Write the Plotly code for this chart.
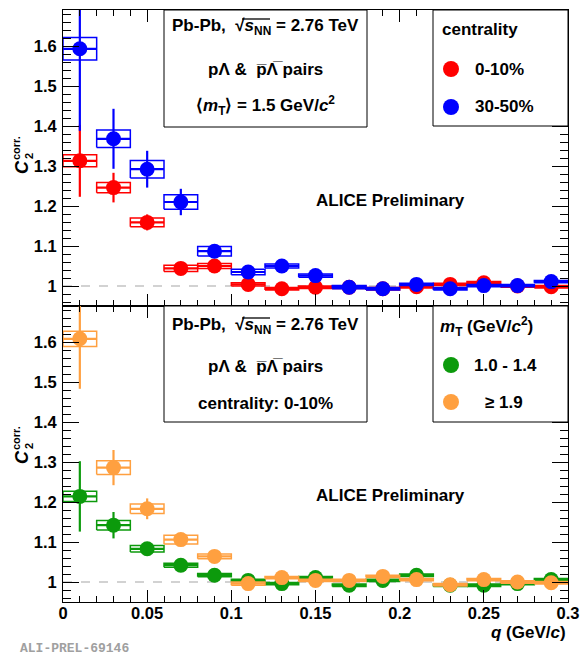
import plotly.graph_objects as go

# ---------------- data ----------------
q = [0.01, 0.03, 0.05, 0.07, 0.09, 0.11, 0.13, 0.15, 0.17, 0.19, 0.21, 0.23, 0.25, 0.27, 0.29]
q_halfbin = [0.01] * 15

# top panel: centrality, <mT> = 1.5 GeV/c^2
c010_y = [1.313, 1.246, 1.159, 1.044, 1.050, 1.004, 0.993, 0.997, 0.997, 0.993, 0.998, 1.004, 1.008, 1.000, 0.998]
c010_stat = [0.090, 0.037, 0.020, 0.008, 0.008, 0.006, 0.005, 0.005, 0.004, 0.004, 0.004, 0.004, 0.004, 0.004, 0.004]
c010_sys = [0.015, 0.013, 0.011, 0.008, 0.006, 0.004, 0.003, 0.003, 0.003, 0.003, 0.003, 0.003, 0.003, 0.003, 0.003]

c3050_y = [1.593, 1.368, 1.292, 1.210, 1.087, 1.035, 1.050, 1.026, 0.997, 0.993, 1.004, 0.993, 1.001, 1.001, 1.011]
c3050_stat = [0.205, 0.075, 0.046, 0.033, 0.015, 0.008, 0.006, 0.006, 0.005, 0.005, 0.005, 0.005, 0.005, 0.005, 0.005]
c3050_sys = [0.028, 0.022, 0.022, 0.018, 0.012, 0.007, 0.005, 0.004, 0.004, 0.003, 0.003, 0.003, 0.003, 0.003, 0.003]

# bottom panel: mT bins, centrality 0-10%
mt1_y = [1.214, 1.142, 1.083, 1.042, 1.017, 1.004, 0.996, 1.011, 0.992, 1.004, 1.017, 0.992, 0.992, 0.996, 1.006]
mt1_stat = [0.088, 0.033, 0.012, 0.008, 0.007, 0.006, 0.005, 0.005, 0.005, 0.005, 0.005, 0.005, 0.005, 0.005, 0.005]
mt1_sys = [0.013, 0.012, 0.008, 0.005, 0.004, 0.003, 0.003, 0.003, 0.003, 0.003, 0.003, 0.003, 0.003, 0.003, 0.003]

mt2_y = [1.608, 1.286, 1.183, 1.106, 1.064, 0.996, 1.011, 1.004, 1.004, 1.014, 1.006, 0.993, 1.006, 1.000, 0.998]
mt2_stat = [0.125, 0.044, 0.026, 0.014, 0.010, 0.005, 0.005, 0.005, 0.005, 0.005, 0.005, 0.005, 0.005, 0.005, 0.005]
mt2_sys = [0.019, 0.017, 0.012, 0.011, 0.006, 0.004, 0.003, 0.003, 0.003, 0.003, 0.003, 0.003, 0.003, 0.003, 0.003]

y_tickvals = [1.0, 1.1, 1.2, 1.3, 1.4, 1.5, 1.6]
y_ticktext = ["1", "1.1", "1.2", "1.3", "1.4", "1.5", "1.6"]
x_tickvals = [0, 0.05, 0.1, 0.15, 0.2, 0.25, 0.3]
x_ticktext = ["0", "0.05", "0.1", "0.15", "0.2", "0.25", "0.3"]

RED, BLUE, GREEN, ORANGE = "#ff0000", "#0000ff", "#0c9a0c", "#ffa040"
FONT = "Liberation Sans"

fig = go.Figure()


def box_path(xs, hws, ys, ss):
    X, Y = [], []
    for x, hw, y, s in zip(xs, hws, ys, ss):
        X += [x - hw, x + hw, x + hw, x - hw, x - hw, None]
        Y += [y - s, y - s, y + s, y + s, y - s, None]
    return X, Y


def add_series(ys, stat, sys, color, xa, ya):
    bx, by = box_path(q, q_halfbin, ys, sys)
    fig.add_trace(go.Scatter(x=bx, y=by, mode="lines", line=dict(color=color, width=1.5),
                             xaxis=xa, yaxis=ya, hoverinfo="skip"))
    fig.add_trace(go.Scatter(
        x=q, y=ys, mode="markers", xaxis=xa, yaxis=ya,
        marker=dict(color=color, size=15, line=dict(width=0)),
        error_y=dict(type="data", array=stat, visible=True, color=color, thickness=2.2, width=0),
        error_x=dict(type="data", array=q_halfbin, visible=True, color=color, thickness=2.2, width=0),
    ))


# reference lines at 1
for xa, ya in (("x", "y"), ("x2", "y2")):
    fig.add_trace(go.Scatter(x=[x_tickvals[0], x_tickvals[-1]], y=[1, 1], mode="lines",
                             line=dict(color="#c4c4c4", width=1.5, dash="dash"),
                             xaxis=xa, yaxis=ya, hoverinfo="skip"))

add_series(c010_y, c010_stat, c010_sys, RED, "x", "y")
add_series(c3050_y, c3050_stat, c3050_sys, BLUE, "x", "y")
add_series(mt1_y, mt1_stat, mt1_sys, GREEN, "x2", "y2")
add_series(mt2_y, mt2_stat, mt2_sys, ORANGE, "x2", "y2")

tickfont = dict(family=FONT, size=16.5, color="black", weight="bold")
common_x = dict(range=[0, 0.3], showgrid=False, zeroline=False, showline=True, linecolor="black",
                linewidth=1, mirror="allticks", ticks="inside", ticklen=12, tickwidth=1,
                tickcolor="black", tickvals=x_tickvals, ticktext=x_ticktext, tickfont=tickfont,
                automargin=False, ticklabelstandoff=-4,
                minor=dict(ticks="inside", dtick=0.01, ticklen=6, tickwidth=1, tickcolor="black",
                           showgrid=False))
common_y = dict(range=[0.95, 1.69], showgrid=False, zeroline=False, showline=True, linecolor="black",
                linewidth=1, mirror="allticks", ticks="inside", ticklen=16, tickwidth=1,
                tickcolor="black", tickvals=y_tickvals, ticktext=y_ticktext, tickfont=tickfont,
                ticklabelstandoff=2, automargin=False,
                minor=dict(ticks="inside", dtick=0.02, tick0=1.0, ticklen=8, tickwidth=1,
                           tickcolor="black", showgrid=False))

fig.update_layout(
    width=582, height=656, autosize=False,
    margin=dict(l=63, r=14, t=10, b=54, autoexpand=False),
    paper_bgcolor="white", plot_bgcolor="white",
    showlegend=False,
    xaxis=dict(domain=[0, 1], anchor="y", showticklabels=False, **common_x),
    yaxis=dict(domain=[0.5, 1], anchor="x", **common_y),
    xaxis2=dict(domain=[0, 1], anchor="y2", matches="x", showticklabels=True, **common_x),
    yaxis2=dict(domain=[0, 0.5], anchor="x2", **common_y),
)


def px2paper(px, py):
    return (px - 63) / 505.0, (602 - py) / 592.0


shapes = []
for (x0, y0, x1, y1) in [(164, 10, 367, 127), (433, 10, 568, 126), (164, 306, 367, 422), (433, 306, 568, 422)]:
    a, b = px2paper(x0, y0)
    c, d = px2paper(x1, y1)
    shapes.append(dict(type="rect", xref="paper", yref="paper", x0=a, y0=d, x1=c, y1=b,
                       line=dict(color="black", width=1), fillcolor="white", layer="above"))
for (cx, cy, col) in [(451, 69, RED), (451, 107, BLUE), (451, 365, GREEN), (451, 402, ORANGE)]:
    a, b = px2paper(cx, cy)
    shapes.append(dict(type="circle", xref="paper", yref="paper", xsizemode="pixel", ysizemode="pixel",
                       xanchor=a, yanchor=b, x0=-8, x1=8, y0=-8, y1=8,
                       fillcolor=col, line=dict(width=0), layer="above"))
# overline of the square root sign
for oy in (19, 318):
    a, b = px2paper(242, oy)
    c, _ = px2paper(270, oy)
    shapes.append(dict(type="line", xref="paper", yref="paper", x0=a, x1=c, y0=b, y1=b,
                       line=dict(color="black", width=1.3), layer="above"))
fig.update_layout(shapes=shapes)

bold = dict(family=FONT, size=17, color="black", weight="bold")


def ann(text, px, py, xanchor="center", font=bold, angle=0):
    a, b = px2paper(px, py)
    fig.add_annotation(text=text, x=a, y=b, xref="paper", yref="paper", showarrow=False,
                       xanchor=xanchor, yanchor="middle", font=font, textangle=angle)


sqrt_txt = "Pb-Pb,  √<i>s</i><sub>NN</sub> = 2.76 TeV"
pairs_txt = "pΛ &amp;  p̅Λ̅ pairs"
ann(sqrt_txt, 265, 27)
ann(pairs_txt, 265, 70)
ann("⟨<i>m</i><sub>T</sub>⟩ = 1.5 GeV/<i>c</i><sup>2</sup>", 265, 105)
ann("centrality", 440, 29, "left")
ann("0-10%", 473, 69, "left")
ann("30-50%", 473, 107, "left")
ann("ALICE Preliminary", 390, 201)

ann(sqrt_txt, 265, 326)
ann(pairs_txt, 265, 366)
ann("centrality: 0-10%", 265, 403)
ann("<i>m</i><sub>T</sub> (GeV/<i>c</i><sup>2</sup>)", 438, 326, "left")
ann("1.0 - 1.4", 505, 365)
ann("≥ 1.9", 504, 402)
ann("ALICE Preliminary", 390, 495)

# axis titles
ann("<i>q</i> (GeV/<i>c</i>)", 568, 632, "right")
ytitle_font = dict(family=FONT, size=18, color="black", weight="bold")
small_font = dict(family=FONT, size=11, color="black", weight="bold")
for cy in (152, 442):
    ann("<i>C</i>", 22, cy + 15, font=ytitle_font, angle=-90)
    ann("corr.", 16, cy - 4, font=small_font, angle=-90)
    ann("2", 29, cy + 4, font=small_font, angle=-90)

ann("ALI-PREL-69146", 18, 648, "left",
    font=dict(family="Liberation Mono", size=13, color="#a0a0a0", weight="bold"))

fig.write_html("out.html", config={"displayModeBar": False},
               post_script="document.body.style.margin='0';document.body.style.overflow='hidden';")
